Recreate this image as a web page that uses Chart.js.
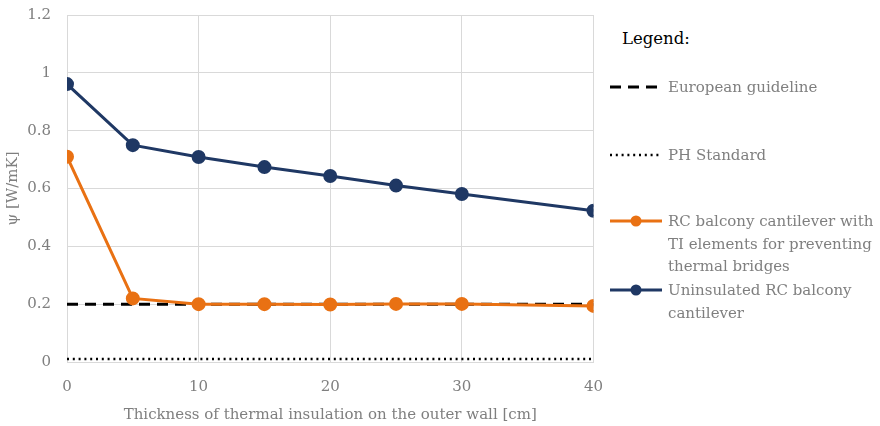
<!DOCTYPE html>
<html>
<head>
<meta charset="utf-8">
<script src="https://cdn.jsdelivr.net/npm/chart.js@4/dist/chart.umd.min.js"></script>
<style>
  html, body { margin: 0; padding: 0; background: #fff; overflow: hidden; }
  #wrap { position: relative; width: 880px; height: 426px; overflow: hidden; }
  #chartBox { position: absolute; left: 0; top: -10px; width: 619px; height: 438px; }
  .lg { position: absolute; font-family: "DejaVu Serif", serif; font-size: 15px; color: #7f7f7f; line-height: 22.5px; white-space: nowrap; }
  .lgTitle { position: absolute; left: 622px; top: 29px; font-family: "DejaVu Serif", serif; font-size: 16.5px; color: #000; }
  svg.sample { position: absolute; }
</style>
</head>
<body>
<div id="wrap">
  <div id="chartBox"><canvas id="c"></canvas></div>
  <div class="lgTitle">Legend:</div>
  <svg class="sample" style="left:608px;top:80px" width="56" height="14"><line x1="2" y1="7" x2="54" y2="7" stroke="#000" stroke-width="3" stroke-dasharray="11,7"/></svg>
  <div class="lg" style="left:668px;top:76px">European guideline</div>
  <svg class="sample" style="left:608px;top:148px" width="56" height="14"><line x1="2" y1="7" x2="54" y2="7" stroke="#000" stroke-width="2.5" stroke-dasharray="2,3.8"/></svg>
  <div class="lg" style="left:668px;top:144px">PH Standard</div>
  <svg class="sample" style="left:608px;top:212px" width="56" height="18"><line x1="2" y1="9" x2="54" y2="9" stroke="#e97113" stroke-width="3"/><circle cx="28" cy="9" r="5.5" fill="#e97113"/></svg>
  <div class="lg" style="left:668px;top:210px">RC balcony cantilever with<br>TI elements for preventing<br>thermal bridges</div>
  <svg class="sample" style="left:608px;top:281px" width="56" height="18"><line x1="2" y1="9" x2="54" y2="9" stroke="#1f3864" stroke-width="3"/><circle cx="28" cy="9" r="5.5" fill="#1f3864"/></svg>
  <div class="lg" style="left:668px;top:279px">Uninsulated RC balcony<br>cantilever</div>
</div>
<script>
const thickness = [0, 5, 10, 15, 20, 25, 30, 40];
const uninsulated = [0.961, 0.750, 0.709, 0.674, 0.643, 0.610, 0.581, 0.523];
const withTI = [0.710, 0.220, 0.200, 0.200, 0.199, 0.201, 0.201, 0.194];
const europeanGuideline = [0.2, 0.2, 0.2, 0.2, 0.2, 0.2, 0.2, 0.2];
const phStandard = [0.01, 0.01, 0.01, 0.01, 0.01, 0.01, 0.01, 0.01];
const yTicks = [0, 0.2, 0.4, 0.6, 0.8, 1, 1.2];
const xTicks = [0, 10, 20, 30, 40];

const pts = arr => thickness.map((x, i) => ({ x: x, y: arr[i] }));
const FONT = "'DejaVu Serif', serif";

new Chart(document.getElementById('c'), {
  type: 'line',
  data: {
    datasets: [
      { label: 'Uninsulated RC balcony cantilever', data: pts(uninsulated), borderColor: '#1f3864', backgroundColor: '#1f3864', borderWidth: 3, pointRadius: 5.5, pointHoverRadius: 5.5, order: 1 },
      { label: 'RC balcony cantilever with TI elements for preventing thermal bridges', data: pts(withTI), borderColor: '#e97113', backgroundColor: '#e97113', borderWidth: 3, pointRadius: 5.5, pointHoverRadius: 5.5, order: 2 },
      { label: 'European guideline', data: pts(europeanGuideline), borderColor: '#000', borderWidth: 3, borderDash: [11, 7], pointRadius: 0, order: 3 },
      { label: 'PH Standard', data: pts(phStandard), borderColor: '#000', borderWidth: 2.5, borderDash: [2, 3.8], pointRadius: 0, order: 4 }
    ]
  },
  options: {
    responsive: true,
    maintainAspectRatio: false,
    animation: false,
    layout: { padding: { top: 5, right: 12, left: 0, bottom: 0 } },
    plugins: { legend: { display: false }, tooltip: { enabled: false } },
    scales: {
      x: {
        type: 'linear', min: 0, max: 40,
        afterBuildTicks: s => { s.ticks = xTicks.map(v => ({ value: v })); },
        ticks: { color: '#7f7f7f', font: { family: FONT, size: 15 }, padding: 16, maxRotation: 0 },
        grid: { color: '#d9d9d9', lineWidth: 1, drawTicks: false },
        border: { color: '#d9d9d9' },
        title: { display: true, text: 'Thickness of thermal insulation on the outer wall [cm]', color: '#7f7f7f', font: { family: FONT, size: 15 }, padding: { top: 4 } },
        afterFit: s => { s.height = 66; }
      },
      y: {
        min: 0, max: 1.2,
        afterBuildTicks: s => { s.ticks = yTicks.map(v => ({ value: v })); },
        ticks: { color: '#7f7f7f', font: { family: FONT, size: 15 }, padding: 16, callback: v => String(+v.toFixed(1)) },
        grid: { color: '#d9d9d9', lineWidth: 1, drawTicks: false },
        border: { color: '#d9d9d9' },
        title: { display: true, text: 'ψ [W/mK]', color: '#7f7f7f', font: { family: FONT, size: 15 } },
        afterFit: s => { s.width = 67; }
      }
    }
  }
});
</script>
</body>
</html>
